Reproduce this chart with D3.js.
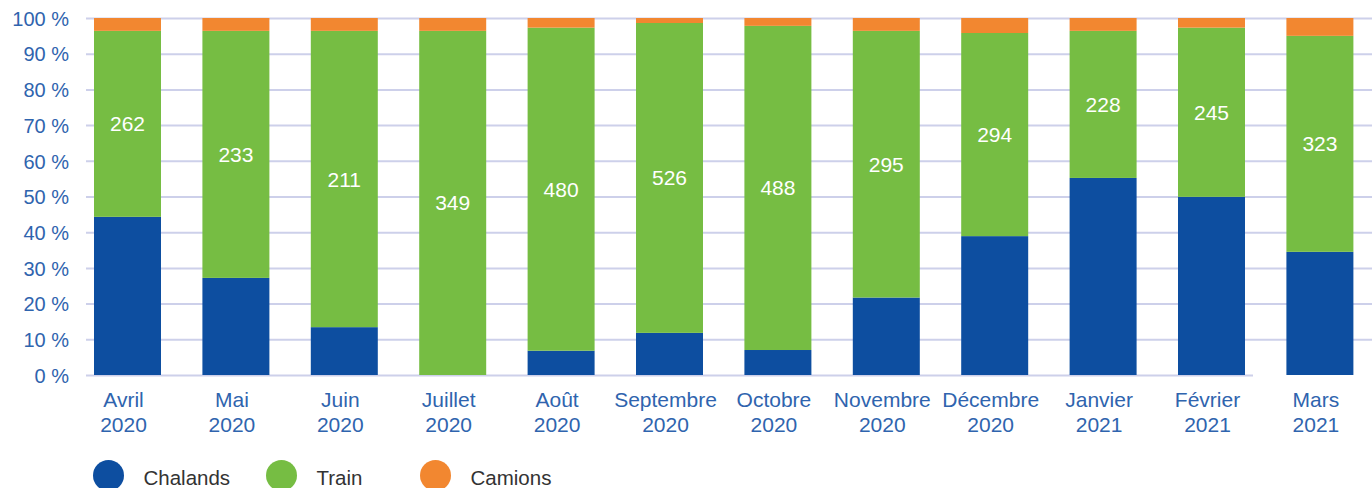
<!DOCTYPE html>
<html>
<head>
<meta charset="utf-8">
<script src="https://cdn.jsdelivr.net/npm/d3@7"></script>
<style>
  html, body { margin: 0; padding: 0; background: #fff; }
  svg { display: block; font-family: "Liberation Sans", Arial, Helvetica, sans-serif; }
</style>
</head>
<body>
<svg id="chart" width="1372" height="488"></svg>
<script>
const months = ["Avril","Mai","Juin","Juillet","Août","Septembre","Octobre","Novembre","Décembre","Janvier","Février","Mars"];
const years = ["2020","2020","2020","2020","2020","2020","2020","2020","2020","2021","2021","2021"];
const chalands = [44.3, 27.2, 13.4, 0, 6.8, 11.8, 7.0, 21.7, 38.9, 55.2, 49.9, 34.5];
const train    = [52.1, 69.2, 83.0, 96.4, 90.5, 86.8, 90.8, 74.7, 56.9, 41.2, 47.4, 60.5];
const camions  = [3.6, 3.6, 3.6, 3.6, 2.7, 1.4, 2.2, 3.6, 4.2, 3.6, 2.7, 5.0];
const totals   = [262, 233, 211, 349, 480, 526, 488, 295, 294, 228, 245, 323];
const seriesNames = ["Chalands", "Train", "Camions"];
const yTicks = [0,10,20,30,40,50,60,70,80,90,100];

const colors = { Chalands: "#0d4ea0", Train: "#76bd43", Camions: "#f28730" };

const svg = d3.select("#chart");
const W = 1372;

const rows = months.map((m, i) => ({
  key: m + " " + years[i], month: m, year: years[i],
  Chalands: chalands[i], Train: train[i], Camions: camions[i], total: totals[i]
}));

const x = d3.scaleBand()
  .domain(rows.map(d => d.key))
  .range([73.3, 1374.1])
  .paddingInner(0.382)
  .paddingOuter(0.191);

const y = d3.scaleLinear().domain([0, 100]).range([375, 18]);

// grid + y axis
const axisX = 86;
const yAxis = d3.axisLeft(y)
  .tickValues(yTicks)
  .tickFormat(d => d + " %")
  .tickSize(-(W - axisX))
  .tickPadding(17);

const gy = svg.append("g").attr("transform", `translate(${axisX},0)`).call(yAxis);
gy.select(".domain").remove();
gy.selectAll(".tick line")
  .attr("stroke", "#cdd0ea")
  .attr("stroke-width", 2)
  .attr("x2", d => d === 0 ? (1253 - axisX) : (W - axisX));
gy.selectAll(".tick text")
  .attr("fill", "#2f64ae")
  .style("font-size", "20px")
  .attr("dy", "0.36em");

// stacked bars
const stack = d3.stack().keys(seriesNames);
const stacked = stack(rows);

svg.append("g").selectAll("g")
  .data(stacked)
  .join("g")
  .attr("fill", s => colors[s.key])
  .selectAll("rect")
  .data(s => s)
  .join("rect")
  .attr("x", d => x(d.data.key))
  .attr("width", x.bandwidth())
  .attr("y", d => y(d[1]))
  .attr("height", d => y(d[0]) - y(d[1]));

// labels in train segment
const trainLayer = stacked.find(s => s.key === "Train");
svg.append("g").selectAll("text")
  .data(trainLayer)
  .join("text")
  .attr("x", d => x(d.data.key) + x.bandwidth() / 2)
  .attr("y", d => (y(d[0]) + y(d[1])) / 2)
  .attr("dy", "0.36em")
  .attr("text-anchor", "middle")
  .attr("fill", "#ffffff")
  .style("font-size", "21px")
  .text(d => d.data.total);

// x labels
const gx = svg.append("g").attr("transform", "translate(-4,0)");
const xl = gx.selectAll("text")
  .data(rows)
  .join("text")
  .attr("text-anchor", "middle")
  .attr("fill", "#2f64ae")
  .style("font-size", "21px");
xl.append("tspan")
  .attr("x", d => x(d.key) + x.bandwidth() / 2)
  .attr("y", 407)
  .text(d => d.month);
xl.append("tspan")
  .attr("x", d => x(d.key) + x.bandwidth() / 2)
  .attr("y", 432)
  .text(d => d.year);

// legend
const legendX = [108.5, 281.5, 435.5];
const lg = svg.append("g").selectAll("g")
  .data(seriesNames)
  .join("g")
  .attr("transform", (d, i) => `translate(${legendX[i]},475.5)`);
lg.append("circle").attr("r", 15.5).attr("fill", d => colors[d]);
lg.append("text")
  .attr("x", 35)
  .attr("y", 9)
  .attr("fill", "#333333")
  .style("font-size", "20.5px")
  .text(d => d);
</script>
</body>
</html>
